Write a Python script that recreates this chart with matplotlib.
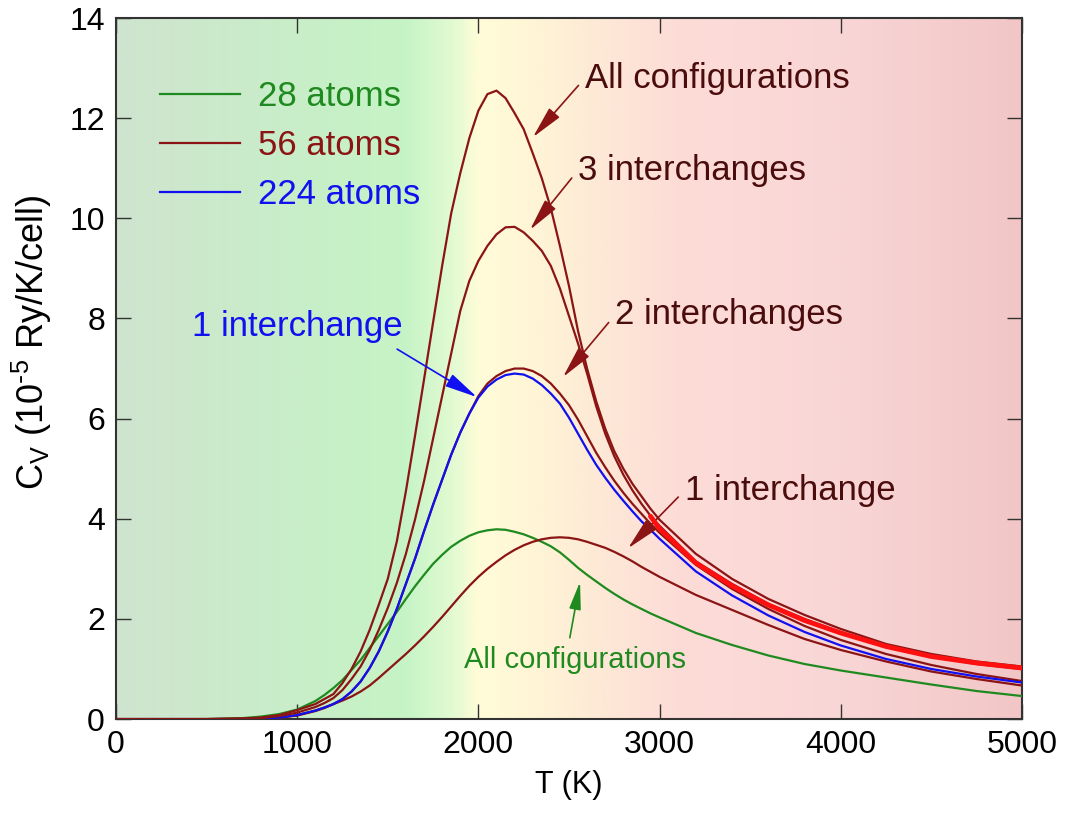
import matplotlib.pyplot as plt
import numpy as np
from matplotlib.colors import LinearSegmentedColormap

plt.rcParams['font.family'] = ['Liberation Sans', 'DejaVu Sans']
plt.rcParams['mathtext.default'] = 'regular'

# temperature grid (K)
T = [0, 500, 700, 800, 900, 1000,
     1100, 1150, 1200, 1250, 1300, 1350, 1400, 1450, 1500, 1550,
     1600, 1650, 1700, 1750, 1800, 1850, 1900, 1950, 2000, 2050,
     2100, 2150, 2200, 2250, 2300, 2350, 2400, 2450, 2500, 2550,
     2600, 2650, 2700, 2750, 2800, 2850, 2900, 2950, 3000,
     3200, 3400, 3600, 3800, 4000, 4250, 4500, 4750, 5000]

# 28 atoms, all configurations
cv_28_all = [0, 0, 0.02, 0.05, 0.1, 0.19,
             0.36, 0.48, 0.62, 0.78, 0.98, 1.18, 1.42, 1.66, 1.9, 2.14,
             2.4, 2.65, 2.88, 3.1, 3.28, 3.44, 3.56, 3.66, 3.73, 3.77,
             3.79, 3.78, 3.74, 3.69, 3.62, 3.54, 3.45, 3.33, 3.18, 3.02,
             2.88, 2.75, 2.62, 2.5, 2.39, 2.29, 2.2, 2.11, 2.03,
             1.72, 1.48, 1.27, 1.1, 0.97, 0.83, 0.69, 0.56, 0.46]
# 56 atoms
cv_56_all = [0, 0, 0.01, 0.03, 0.08, 0.18,
             0.3, 0.4, 0.5, 0.72, 1.0, 1.35, 1.78, 2.28, 2.8, 3.55,
             4.55, 5.65, 6.78, 7.92, 9.05, 10.1, 10.9, 11.6, 12.15, 12.48,
             12.55, 12.4, 12.1, 11.78, 11.3, 10.8, 10.2, 9.45, 8.65, 7.75,
             7.0, 6.35, 5.8, 5.35, 5.0, 4.7, 4.45, 4.2, 3.98,
             3.3, 2.8, 2.4, 2.08, 1.8, 1.5, 1.3, 1.15, 1.05]
cv_56_3int = [0, 0, 0.01, 0.02, 0.06, 0.13,
              0.24, 0.32, 0.42, 0.58, 0.8, 1.05, 1.38, 1.78, 2.22, 2.72,
              3.3, 3.98, 4.75, 5.6, 6.45, 7.3, 8.15, 8.75, 9.15, 9.45,
              9.68, 9.82, 9.83, 9.72, 9.55, 9.35, 9.05, 8.6, 8.05, 7.5,
              6.9, 6.25, 5.7, 5.25, 4.88, 4.57, 4.3, 4.06, 3.86,
              3.15, 2.7, 2.3, 2.0, 1.73, 1.45, 1.25, 1.1, 1.0]
cv_56_2int = [0, 0, 0, 0.01, 0.03, 0.08,
              0.17, 0.23, 0.3, 0.4, 0.55, 0.75, 1.02, 1.35, 1.75, 2.2,
              2.7, 3.2, 3.75, 4.28, 4.78, 5.28, 5.72, 6.1, 6.45, 6.7,
              6.85, 6.95, 7.0, 7.0, 6.95, 6.85, 6.7, 6.5, 6.27, 5.98,
              5.65, 5.32, 5.03, 4.76, 4.52, 4.3, 4.1, 3.9, 3.72,
              3.08, 2.6, 2.2, 1.86, 1.58, 1.3, 1.08, 0.9, 0.76]
cv_56_1int = [0, 0, 0, 0.01, 0.03, 0.07,
              0.16, 0.22, 0.3, 0.37, 0.45, 0.55, 0.67, 0.82, 0.98, 1.14,
              1.3, 1.47, 1.65, 1.84, 2.04, 2.25, 2.46, 2.66, 2.84, 3.0,
              3.14, 3.27, 3.38, 3.47, 3.54, 3.59, 3.62, 3.63, 3.62, 3.59,
              3.54, 3.48, 3.42, 3.34, 3.25, 3.15, 3.04, 2.94, 2.84,
              2.48, 2.18, 1.88, 1.6, 1.38, 1.15, 0.95, 0.8, 0.67]
# 224 atoms, 1 interchange
cv_224_1int = [0, 0, 0, 0.01, 0.03, 0.08,
               0.17, 0.23, 0.3, 0.4, 0.55, 0.75, 1.02, 1.35, 1.75, 2.2,
               2.7, 3.2, 3.75, 4.28, 4.78, 5.28, 5.72, 6.1, 6.42, 6.64,
               6.78, 6.87, 6.9, 6.88, 6.8, 6.67, 6.5, 6.3, 6.02, 5.7,
               5.38, 5.08, 4.82, 4.58, 4.36, 4.15, 3.95, 3.78, 3.6,
               2.95, 2.47, 2.07, 1.74, 1.47, 1.2, 1.0, 0.85, 0.73]
# red high-temperature tail
T_red = [2950, 3000, 3200, 3400, 3600, 3800, 4000, 4250, 4500, 4750, 5000]
cv_red = [4.05, 3.8, 3.12, 2.66, 2.28, 1.97, 1.72, 1.45, 1.25, 1.12, 1.02]

GREEN = '#1f8a1f'
BROWN = '#8b1414'
BLUE = '#1010f0'
RED = '#ff1010'
TXT_BROWN = '#4a0c0c'

fig = plt.figure(figsize=(10.78, 8.19), dpi=100)
ax = fig.add_axes([0.1076, 0.122, 0.8404, 0.856])

# background gradient
bg = LinearSegmentedColormap.from_list('bg', [
    (0.0, '#cfe4cf'), (0.2, '#c8eec8'), (0.32, '#c6f4c6'), (0.37, '#e2fad2'),
    (0.40, '#fffcd8'), (0.46, '#fff5d6'), (0.54, '#fde8d6'), (0.62, '#fddcd8'),
    (0.8, '#f9d6d6'), (1.0, '#f2c6c6')])
ax.imshow(np.linspace(0, 1, 500)[None, :], cmap=bg, aspect='auto',
          extent=[0, 5000, 0, 14], zorder=0)

lw = 1.6
l28, = ax.plot(T, cv_28_all, color=GREEN, lw=lw, zorder=3)
ax.plot(T, cv_56_1int, color=BROWN, lw=lw, zorder=3)
ax.plot(T, cv_56_2int, color=BROWN, lw=lw, zorder=3)
l224, = ax.plot(T, cv_224_1int, color=BLUE, lw=lw, zorder=3)
ax.plot(T, cv_56_3int, color=BROWN, lw=lw, zorder=3)
l56, = ax.plot(T, cv_56_all, color=BROWN, lw=lw, zorder=3)
ax.plot(T_red, cv_red, color=RED, lw=3.5, zorder=4, solid_capstyle='round')

ax.set_xlim(0, 5000)
ax.set_ylim(0, 14)
ax.set_xticks([0, 1000, 2000, 3000, 4000, 5000])
ax.set_yticks([0, 2, 4, 6, 8, 10, 12, 14])
ax.tick_params(direction='in', length=11, width=1.0, top=True, right=True,
               labelsize=23, pad=8, color='#333333')
for s in ax.spines.values():
    s.set_linewidth(1.5)
    s.set_color('#333333')

ax.set_xlabel('T (K)', fontsize=22, labelpad=7)
ax.set_ylabel(r'C$_{V}$ (10$^{\text{-}5}$ Ry/K/cell)', fontsize=26)
ax.yaxis.set_label_coords(-0.068, 0.538)

leg = ax.legend([l28, l56, l224], ['28 atoms', '56 atoms', '224 atoms'],
                loc='upper left', bbox_to_anchor=(0.049, 0.912), frameon=False,
                fontsize=25, labelcolor='linecolor', handlelength=2.3,
                handletextpad=0.5, labelspacing=0.46, borderpad=0, borderaxespad=0)

HEAD = '-|>,head_length=0.8,head_width=0.17'


def brown_arrow():
    return dict(arrowstyle=HEAD, color=BROWN, lw=1.2, relpos=(0, 0.5),
                shrinkA=4, shrinkB=0)


ax.annotate('All configurations', xy=(2301, 11.62), xytext=(2588, 12.8),
            color=TXT_BROWN, fontsize=25, va='center', ha='left', arrowprops=brown_arrow())
ax.annotate('3 interchanges', xy=(2285, 9.77), xytext=(2550, 10.96),
            color=TXT_BROWN, fontsize=25, va='center', ha='left', arrowprops=brown_arrow())
ax.annotate('2 interchanges', xy=(2467, 6.83), xytext=(2754, 8.07),
            color=TXT_BROWN, fontsize=25, va='center', ha='left', arrowprops=brown_arrow())
ax.annotate('1 interchange', xy=(2826, 3.41), xytext=(3140, 4.57),
            color=TXT_BROWN, fontsize=25, va='center', ha='left', arrowprops=brown_arrow())
ax.annotate('1 interchange', xy=(1992, 6.43), xytext=(1000, 7.83),
            color=BLUE, fontsize=25, va='center', ha='center',
            arrowprops=dict(arrowstyle=HEAD, color=BLUE, lw=1.2,
                            relpos=(0.93, 0), shrinkA=4, shrinkB=0))
ax.annotate('All configurations', xy=(2561, 2.74), xytext=(2533, 1.18),
            color=GREEN, fontsize=21, va='center', ha='center',
            arrowprops=dict(arrowstyle=HEAD, color=GREEN, lw=1.2,
                            relpos=(0.47, 1), shrinkA=4, shrinkB=0))

fig.savefig('out.png', dpi=100)
